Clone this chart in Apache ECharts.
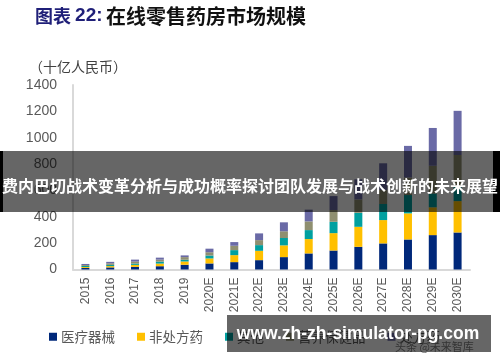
<!DOCTYPE html>
<html>
<head>
<meta charset="utf-8">
<script src="https://cdn.jsdelivr.net/npm/echarts@6/dist/echarts.min.js"></script>
<style>html,body{margin:0;padding:0;background:#fff;}#c{width:500px;height:362px;}</style>
</head>
<body>
<div id="c"></div>
<script>
const categories = ['2015','2016','2017','2018','2019','2020E','2021E','2022E','2023E','2024E','2025E','2026E','2027E','2028E','2029E','2030E'];
const seriesNames = ['医疗器械','非处方药','其他','营养保健品','处方药'];
const medicalDevices = [12, 16, 20, 25, 36, 46, 56, 71, 94, 122, 144, 172, 198, 228, 261, 281];
const otcDrugs       = [7, 10, 15, 20, 25, 38, 53, 71, 89, 109, 132, 152, 177, 198, 211, 238];
const others         = [8, 9, 10, 15, 13, 22, 38, 43, 56, 68, 86, 106, 122, 139, 105, 114];
const nutrition      = [7, 12, 15, 15, 20, 25, 33, 38, 51, 66, 89, 102, 106, 133, 210, 236];
const rxDrugs        = [8, 11, 15, 15, 13, 27, 28, 51, 68, 89, 106, 152, 203, 240, 287, 335];
const yTicks = [0, 200, 400, 600, 800, 1000, 1200, 1400];

const colors = ['#00287A', '#FFC000', '#00A0A0', '#8F8F70', '#6A6AA6'];
const dataList = [medicalDevices, otcDrugs, others, nutrition, rxDrugs];

const chart = echarts.init(document.getElementById('c'));
chart.setOption({
  animation: false,
  backgroundColor: '#fff',
  grid: { left: 73, right: 30, top: 85, bottom: 92.5, containLabel: false },
  legend: {
    data: seriesNames,
    left: 44, top: 325,
    itemWidth: 8, itemHeight: 8, itemGap: 22,
    icon: 'rect',
    textStyle: { fontFamily: 'Noto Sans CJK SC', fontSize: 13.5, color: '#595959', padding: [0,0,0,-1] }
  },
  xAxis: {
    type: 'category',
    data: categories,
    axisLine: { lineStyle: { color: '#D9D9D9', width: 2 } },
    axisTick: { show: false },
    axisLabel: { rotate: 90, color: '#595959', fontSize: 12, fontFamily: 'Liberation Sans', margin: 8, interval: 0 }
  },
  yAxis: {
    type: 'value',
    min: yTicks[0], max: yTicks[yTicks.length-1], interval: 200,
    axisLine: { show: true, lineStyle: { color: '#D9D9D9', width: 2 } },
    axisTick: { show: false },
    splitLine: { show: false },
    axisLabel: { color: '#595959', fontSize: 14, fontFamily: 'Liberation Sans', margin: 16,
      formatter: v => String(v) }
  },
  series: seriesNames.map((n, i) => ({
    name: n, type: 'bar', stack: 'total', barWidth: 8,
    itemStyle: { color: colors[i] },
    data: dataList[i]
  })),
  graphic: [
    { type: 'text', left: 35, top: 6, style: {
      rich: {
        a: { fontFamily: 'Noto Sans CJK SC', fontWeight: 'bold', fontSize: 18, fill: '#1F1F78' },
        b: { fontFamily: 'Liberation Sans', fontWeight: 'bold', fontSize: 19, fill: '#1F1F78' },
        c: { fontFamily: 'Noto Sans CJK SC', fontWeight: 'bold', fontSize: 20, fill: '#111' }
      },
      text: '{a|图表 }{b|22:} {c|在线零售药房市场规模}'
    }},
    { type: 'text', left: 29, top: 60, style: {
      text: '（十亿人民币）', fontFamily: 'Noto Sans CJK SC', fontSize: 14, fill: '#404040'
    }},
    { type: 'text', left: 395, top: 341, z: 50, style: {
      text: '头条 @未来智库', fontFamily: 'Noto Sans CJK SC', fontSize: 11, fill: '#808080'
    }},
    { type: 'rect', z: 100, shape: { x: 0, y: 151, width: 500, height: 61 }, style: { fill: 'rgba(0,0,0,0.6)' } },
    { type: 'rect', z: 101, shape: { x: 0, y: 151, width: 3, height: 61 }, style: { fill: '#000' } },
    { type: 'rect', z: 101, shape: { x: 493, y: 151, width: 7, height: 61 }, style: { fill: '#000' } },
    { type: 'text', z: 102, x: 250, y: 186, style: {
      text: '费内巴切战术变革分析与成功概率探讨团队发展与战术创新的未来展望',
      fontFamily: 'Noto Sans CJK SC', fontWeight: 'bold', fontSize: 16, fill: '#fff',
      align: 'center', verticalAlign: 'middle'
    }},
    { type: 'rect', z: 100, shape: { x: 227, y: 315, width: 264, height: 37 }, style: { fill: 'rgba(0,0,0,0.6)' } },
    { type: 'text', z: 102, x: 358, y: 334, style: {
      text: 'www.zh-zh-simulator-pg.com',
      fontFamily: 'Liberation Sans', fontWeight: 'bold', fontSize: 17.5, fill: '#fff',
      align: 'center', verticalAlign: 'middle'
    }}
  ]
});
</script>
</body>
</html>
